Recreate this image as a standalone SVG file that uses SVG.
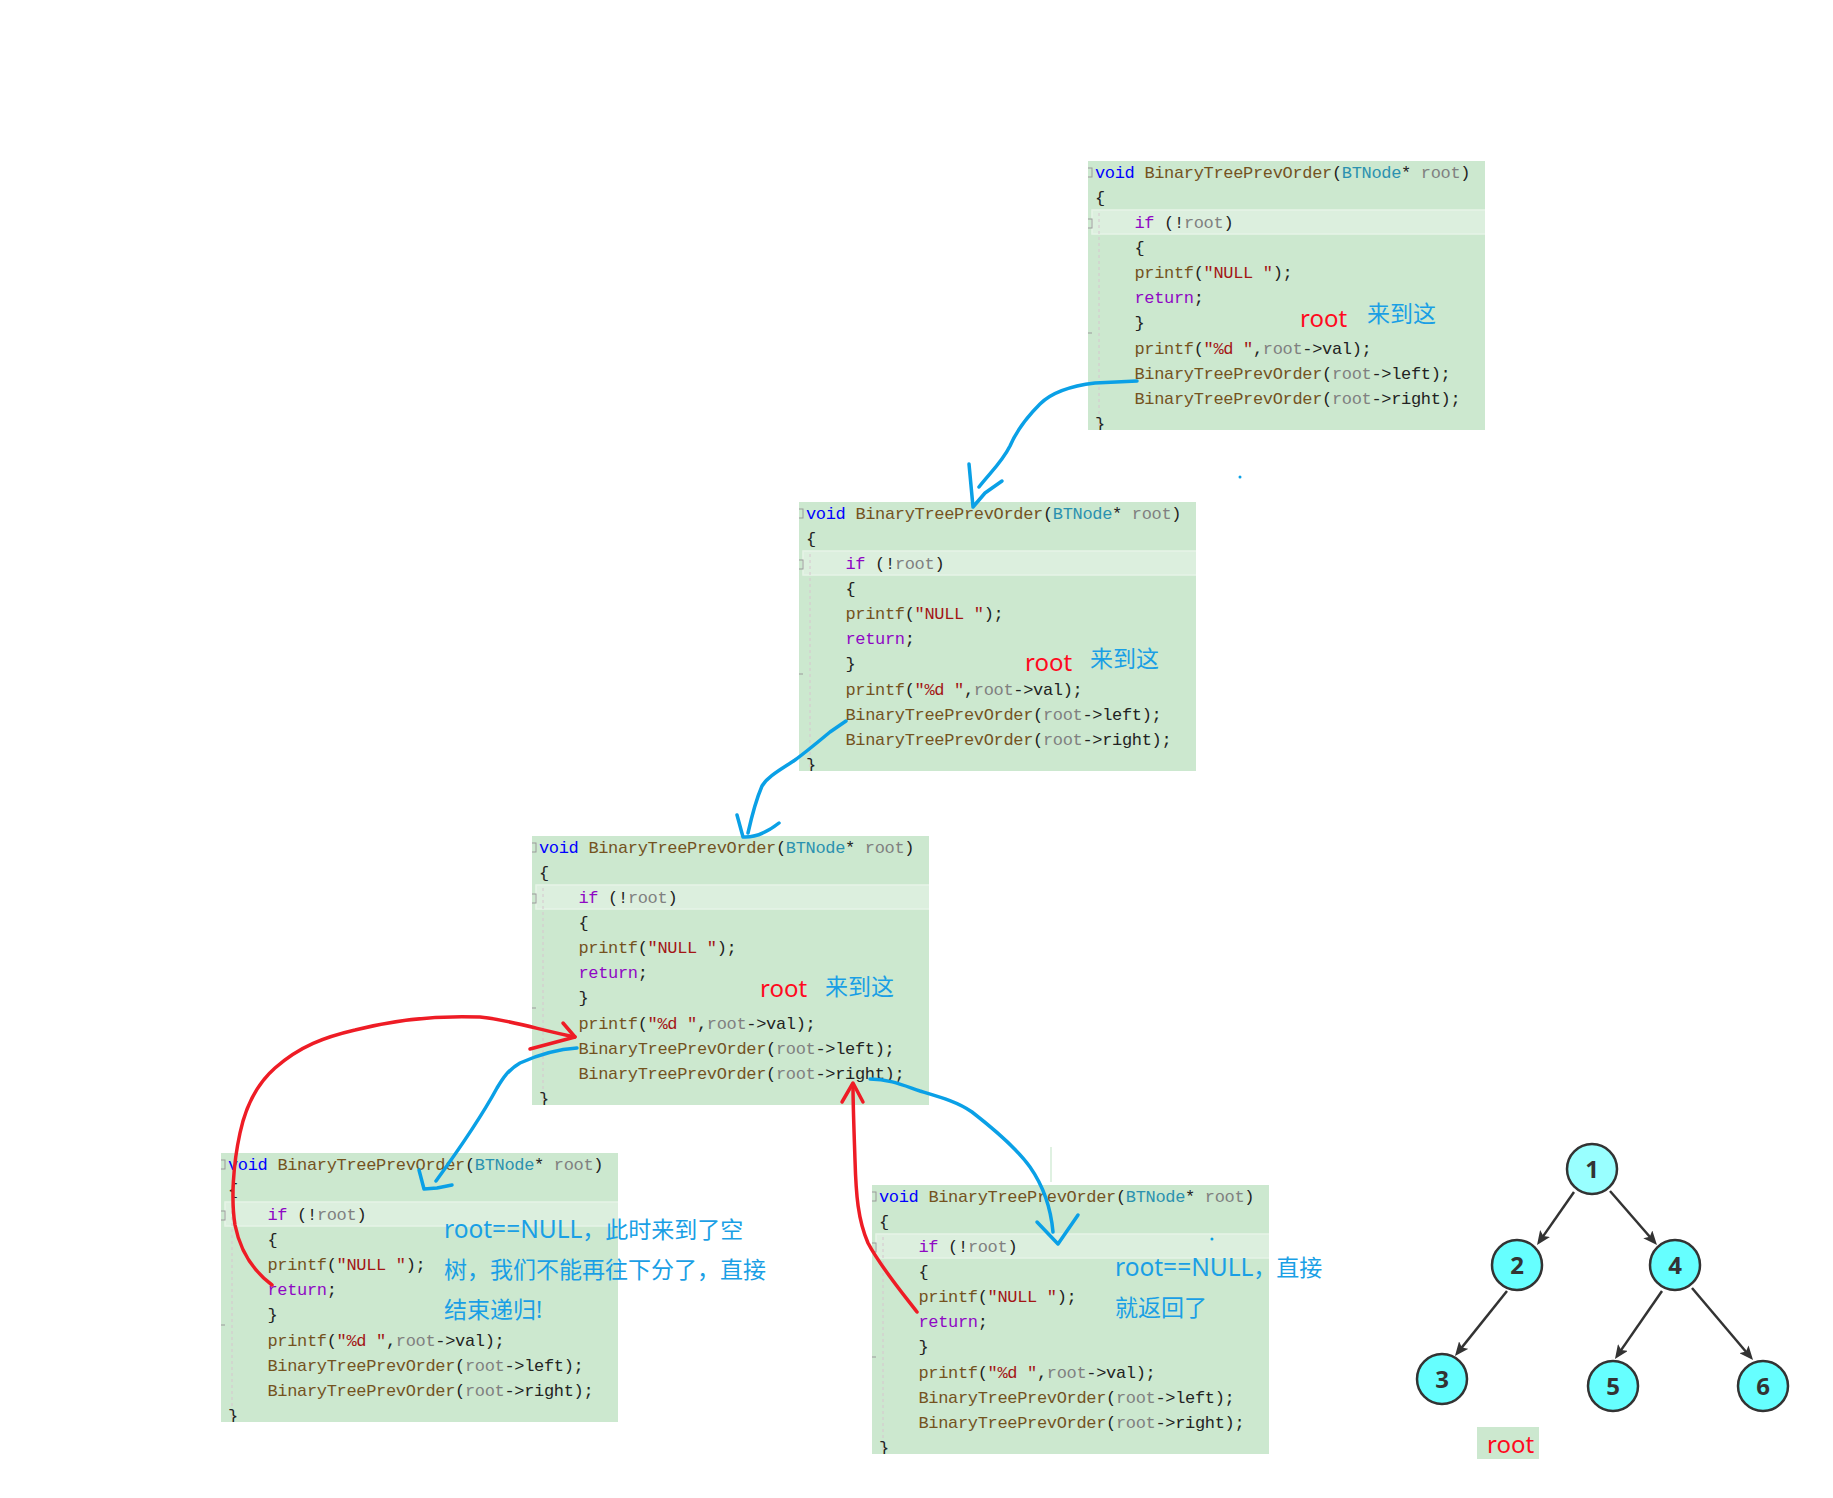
<svg xmlns="http://www.w3.org/2000/svg" width="1833" height="1498" viewBox="0 0 1833 1498">
<style>
.bg{fill:#cce8cf}
.hl{fill:#dcefde;stroke:#e6f3e7;stroke-width:1.5}
.guide{stroke:#d6c6ce;stroke-width:1;stroke-dasharray:3 3}
.fold{fill:none;stroke:#9a9a9a;stroke-width:1}
.gm{stroke:#9a9a9a;stroke-width:1}
.c{font-family:"Liberation Mono",monospace;font-size:17px;letter-spacing:-0.33px;fill:#222}
.kw{fill:#0000ff}
.fn{fill:#74531f}
.ty{fill:#2b91af}
.pm{fill:#808080}
.kw2{fill:#8f08c4}
.st{fill:#a31515}
.ar{font-family:"Noto Sans","Noto Sans CJK SC",sans-serif;font-size:24px;fill:#ff0a1e}
.ab{font-family:"Noto Sans CJK SC",sans-serif;font-size:23px;fill:#1a9fe5}
.note{font-family:"Noto Sans","Noto Sans CJK SC",sans-serif;font-size:23px;fill:#1a9fe5}
.big{font-size:24.5px}
.blue{fill:none;stroke:#0aa0e6;stroke-width:3.5;stroke-linecap:round;stroke-linejoin:round}
.red{fill:none;stroke:#ee1c25;stroke-width:3.5;stroke-linecap:round;stroke-linejoin:round}
.node{stroke:#333;stroke-width:2.5}
.num{font-family:"Open Sans","Noto Sans",sans-serif;font-weight:bold;font-size:24px;fill:#333;text-anchor:middle}
.edge{stroke:#333;stroke-width:2.5;fill:none}
</style>
<defs>
<marker id="ah" viewBox="0 0 14 12" refX="9" refY="6" markerWidth="14" markerHeight="12" markerUnits="userSpaceOnUse" orient="auto"><path d="M0,0 L14,6 L0,12 L3,6 Z" fill="#333"/></marker>
</defs>
<rect width="1833" height="1498" fill="#ffffff"/>

<g id="code1">
<svg x="1088" y="161" width="397" height="269">
<rect class="bg" width="397" height="269"/>
<rect class="hl" x="4" y="49" width="396" height="24"/>
<line class="guide" x1="11" y1="52" x2="11" y2="266"/>
<rect class="fold" x="-4" y="7" width="8" height="9"/>
<rect class="fold" x="-4" y="58" width="8" height="9"/>
<line class="gm" x1="0" y1="172" x2="4" y2="172"/>
<text class="c" x="7" y="16.8"><tspan class="kw">void</tspan> <tspan class="fn">BinaryTreePrevOrder</tspan>(<tspan class="ty">BTNode</tspan>* <tspan class="pm">root</tspan>)</text>
<text class="c" x="7" y="41.9">{</text>
<text class="c" x="46.5" y="67"><tspan class="kw2">if</tspan> (!<tspan class="pm">root</tspan>)</text>
<text class="c" x="46.5" y="92.1">{</text>
<text class="c" x="46.5" y="117.2"><tspan class="fn">printf</tspan>(<tspan class="st">"NULL "</tspan>);</text>
<text class="c" x="46.5" y="142.3"><tspan class="kw2">return</tspan>;</text>
<text class="c" x="46.5" y="167.4">}</text>
<text class="c" x="46.5" y="192.5"><tspan class="fn">printf</tspan>(<tspan class="st">"%d "</tspan>,<tspan class="pm">root</tspan>-&gt;val);</text>
<text class="c" x="46.5" y="217.6"><tspan class="fn">BinaryTreePrevOrder</tspan>(<tspan class="pm">root</tspan>-&gt;left);</text>
<text class="c" x="46.5" y="242.7"><tspan class="fn">BinaryTreePrevOrder</tspan>(<tspan class="pm">root</tspan>-&gt;right);</text>
<text class="c" x="7" y="267.8">}</text>
</svg>
<text class="ar" x="1300" y="327">root</text>
<text class="ab" x="1367" y="322">来到这</text>
</g>

<g id="code2">
<svg x="799" y="502" width="397" height="269">
<rect class="bg" width="397" height="269"/>
<rect class="hl" x="4" y="49" width="396" height="24"/>
<line class="guide" x1="11" y1="52" x2="11" y2="266"/>
<rect class="fold" x="-4" y="7" width="8" height="9"/>
<rect class="fold" x="-4" y="58" width="8" height="9"/>
<line class="gm" x1="0" y1="172" x2="4" y2="172"/>
<text class="c" x="7" y="16.8"><tspan class="kw">void</tspan> <tspan class="fn">BinaryTreePrevOrder</tspan>(<tspan class="ty">BTNode</tspan>* <tspan class="pm">root</tspan>)</text>
<text class="c" x="7" y="41.9">{</text>
<text class="c" x="46.5" y="67"><tspan class="kw2">if</tspan> (!<tspan class="pm">root</tspan>)</text>
<text class="c" x="46.5" y="92.1">{</text>
<text class="c" x="46.5" y="117.2"><tspan class="fn">printf</tspan>(<tspan class="st">"NULL "</tspan>);</text>
<text class="c" x="46.5" y="142.3"><tspan class="kw2">return</tspan>;</text>
<text class="c" x="46.5" y="167.4">}</text>
<text class="c" x="46.5" y="192.5"><tspan class="fn">printf</tspan>(<tspan class="st">"%d "</tspan>,<tspan class="pm">root</tspan>-&gt;val);</text>
<text class="c" x="46.5" y="217.6"><tspan class="fn">BinaryTreePrevOrder</tspan>(<tspan class="pm">root</tspan>-&gt;left);</text>
<text class="c" x="46.5" y="242.7"><tspan class="fn">BinaryTreePrevOrder</tspan>(<tspan class="pm">root</tspan>-&gt;right);</text>
<text class="c" x="7" y="267.8">}</text>
</svg>
<text class="ar" x="1025" y="671">root</text>
<text class="ab" x="1090" y="667">来到这</text>
</g>

<g id="code3">
<svg x="532" y="836" width="397" height="269">
<rect class="bg" width="397" height="269"/>
<rect class="hl" x="4" y="49" width="396" height="24"/>
<line class="guide" x1="11" y1="52" x2="11" y2="266"/>
<rect class="fold" x="-4" y="7" width="8" height="9"/>
<rect class="fold" x="-4" y="58" width="8" height="9"/>
<line class="gm" x1="0" y1="172" x2="4" y2="172"/>
<text class="c" x="7" y="16.8"><tspan class="kw">void</tspan> <tspan class="fn">BinaryTreePrevOrder</tspan>(<tspan class="ty">BTNode</tspan>* <tspan class="pm">root</tspan>)</text>
<text class="c" x="7" y="41.9">{</text>
<text class="c" x="46.5" y="67"><tspan class="kw2">if</tspan> (!<tspan class="pm">root</tspan>)</text>
<text class="c" x="46.5" y="92.1">{</text>
<text class="c" x="46.5" y="117.2"><tspan class="fn">printf</tspan>(<tspan class="st">"NULL "</tspan>);</text>
<text class="c" x="46.5" y="142.3"><tspan class="kw2">return</tspan>;</text>
<text class="c" x="46.5" y="167.4">}</text>
<text class="c" x="46.5" y="192.5"><tspan class="fn">printf</tspan>(<tspan class="st">"%d "</tspan>,<tspan class="pm">root</tspan>-&gt;val);</text>
<text class="c" x="46.5" y="217.6"><tspan class="fn">BinaryTreePrevOrder</tspan>(<tspan class="pm">root</tspan>-&gt;left);</text>
<text class="c" x="46.5" y="242.7"><tspan class="fn">BinaryTreePrevOrder</tspan>(<tspan class="pm">root</tspan>-&gt;right);</text>
<text class="c" x="7" y="267.8">}</text>
</svg>
<text class="ar" x="760" y="997">root</text>
<text class="ab" x="825" y="995">来到这</text>
</g>

<g id="code4">
<svg x="221" y="1153" width="397" height="269">
<rect class="bg" width="397" height="269"/>
<rect class="hl" x="4" y="49" width="396" height="24"/>
<line class="guide" x1="11" y1="52" x2="11" y2="266"/>
<rect class="fold" x="-4" y="7" width="8" height="9"/>
<rect class="fold" x="-4" y="58" width="8" height="9"/>
<line class="gm" x1="0" y1="172" x2="4" y2="172"/>
<text class="c" x="7" y="16.8"><tspan class="kw">void</tspan> <tspan class="fn">BinaryTreePrevOrder</tspan>(<tspan class="ty">BTNode</tspan>* <tspan class="pm">root</tspan>)</text>
<text class="c" x="7" y="41.9">{</text>
<text class="c" x="46.5" y="67"><tspan class="kw2">if</tspan> (!<tspan class="pm">root</tspan>)</text>
<text class="c" x="46.5" y="92.1">{</text>
<text class="c" x="46.5" y="117.2"><tspan class="fn">printf</tspan>(<tspan class="st">"NULL "</tspan>);</text>
<text class="c" x="46.5" y="142.3"><tspan class="kw2">return</tspan>;</text>
<text class="c" x="46.5" y="167.4">}</text>
<text class="c" x="46.5" y="192.5"><tspan class="fn">printf</tspan>(<tspan class="st">"%d "</tspan>,<tspan class="pm">root</tspan>-&gt;val);</text>
<text class="c" x="46.5" y="217.6"><tspan class="fn">BinaryTreePrevOrder</tspan>(<tspan class="pm">root</tspan>-&gt;left);</text>
<text class="c" x="46.5" y="242.7"><tspan class="fn">BinaryTreePrevOrder</tspan>(<tspan class="pm">root</tspan>-&gt;right);</text>
<text class="c" x="7" y="267.8">}</text>
</svg>
<text class="note" x="444" y="1238"><tspan class="big">root==NULL</tspan>，此时来到了空</text>
<text class="note" x="444" y="1278">树，我们不能再往下分了，直接</text>
<text class="note" x="444" y="1318">结束递归!</text>
</g>

<g id="code5">
<svg x="872" y="1185" width="397" height="269">
<rect class="bg" width="397" height="269"/>
<rect class="hl" x="4" y="49" width="396" height="24"/>
<line class="guide" x1="11" y1="52" x2="11" y2="266"/>
<rect class="fold" x="-4" y="7" width="8" height="9"/>
<rect class="fold" x="-4" y="58" width="8" height="9"/>
<line class="gm" x1="0" y1="172" x2="4" y2="172"/>
<text class="c" x="7" y="16.8"><tspan class="kw">void</tspan> <tspan class="fn">BinaryTreePrevOrder</tspan>(<tspan class="ty">BTNode</tspan>* <tspan class="pm">root</tspan>)</text>
<text class="c" x="7" y="41.9">{</text>
<text class="c" x="46.5" y="67"><tspan class="kw2">if</tspan> (!<tspan class="pm">root</tspan>)</text>
<text class="c" x="46.5" y="92.1">{</text>
<text class="c" x="46.5" y="117.2"><tspan class="fn">printf</tspan>(<tspan class="st">"NULL "</tspan>);</text>
<text class="c" x="46.5" y="142.3"><tspan class="kw2">return</tspan>;</text>
<text class="c" x="46.5" y="167.4">}</text>
<text class="c" x="46.5" y="192.5"><tspan class="fn">printf</tspan>(<tspan class="st">"%d "</tspan>,<tspan class="pm">root</tspan>-&gt;val);</text>
<text class="c" x="46.5" y="217.6"><tspan class="fn">BinaryTreePrevOrder</tspan>(<tspan class="pm">root</tspan>-&gt;left);</text>
<text class="c" x="46.5" y="242.7"><tspan class="fn">BinaryTreePrevOrder</tspan>(<tspan class="pm">root</tspan>-&gt;right);</text>
<text class="c" x="7" y="267.8">}</text>
</svg>
<text class="note" x="1115" y="1276"><tspan class="big">root==NULL</tspan>，直接</text>
<text class="note" x="1115" y="1316">就返回了</text>
</g>

<g id="connectors">
<path class="blue" d="M1137,381 L1095,383 C1070,386 1052,392 1040,404 C1026,418 1016,432 1010,446 C1002,462 990,473 979,487"/>
<path class="blue" d="M969,464 L973,507 L985,493 L1002,481"/>
<path class="blue" d="M846,721 L830,732 C818,742 806,752 795,760 C782,769 768,776 762,786 C756,800 752,815 748,833"/>
<path class="blue" d="M737,815 L743,837 Q760,838 779,823"/>
<path class="red" d="M272,1285 C252,1270 240,1250 235,1225 C231,1200 233,1165 240,1133 C246,1105 258,1083 275,1068 C300,1046 325,1037 355,1030 C390,1021 430,1015 480,1017 C510,1020 540,1030 575,1037"/>
<path class="red" d="M563,1023 L575,1037 L530,1049"/>
<path class="blue" d="M577,1048 C560,1049 540,1054 520,1063 C508,1070 503,1078 497,1088 C485,1110 460,1148 436,1181"/>
<path class="blue" d="M419,1170 L424,1189 L437,1188 L452,1185"/>
<path class="red" d="M917,1312 C900,1290 880,1266 868,1243 C858,1220 856,1195 855,1160 C854,1130 853,1105 853,1085"/>
<path class="red" d="M842,1102 L853,1083 L863,1102"/>
<path class="blue" d="M870,1079 C890,1079 905,1086 920,1091 C940,1097 958,1102 972,1112 C990,1126 1015,1146 1030,1167 C1044,1187 1051,1210 1053,1232"/>
<path class="blue" d="M1037,1222 L1058,1244 L1078,1215"/>
<line x1="1051" y1="1147" x2="1051" y2="1182" stroke="#bfe3c4" stroke-width="1"/>
<circle cx="1240" cy="477" r="1.5" fill="#0aa0e6"/>
<circle cx="1212" cy="1239" r="1.5" fill="#0aa0e6"/>
</g>

<g id="tree-edges">
<line class="edge" x1="1574" y1="1192" x2="1539.9" y2="1240.9" marker-end="url(#ah)"/>
<line class="edge" x1="1610" y1="1191" x2="1653.7" y2="1241.2" marker-end="url(#ah)"/>
<line class="edge" x1="1507" y1="1291" x2="1458.1" y2="1352.1" marker-end="url(#ah)"/>
<line class="edge" x1="1662" y1="1291" x2="1617.8" y2="1354.9" marker-end="url(#ah)"/>
<line class="edge" x1="1692" y1="1288" x2="1749.8" y2="1356.2" marker-end="url(#ah)"/>
</g>
<g id="n1"><circle class="node" cx="1592" cy="1169" r="25" fill="#99ffff"/><text class="num" x="1592" y="1177.5">1</text></g>
<g id="n2"><circle class="node" cx="1517" cy="1265" r="25" fill="#66ffff"/><text class="num" x="1517" y="1273.5">2</text></g>
<g id="n4"><circle class="node" cx="1675" cy="1265" r="25" fill="#66ffff"/><text class="num" x="1675" y="1273.5">4</text></g>
<g id="n3"><circle class="node" cx="1442" cy="1379" r="25" fill="#66ffff"/><text class="num" x="1442" y="1387.5">3</text></g>
<g id="n5"><circle class="node" cx="1613" cy="1386" r="25" fill="#66ffff"/><text class="num" x="1613" y="1394.5">5</text></g>
<g id="n6"><circle class="node" cx="1763" cy="1386" r="25" fill="#66ffff"/><text class="num" x="1763" y="1394.5">6</text></g>
<g id="root-label">
<rect x="1477" y="1427" width="62" height="32" fill="#cce8cf"/>
<text class="ar" x="1487" y="1453">root</text>
</g>
</svg>
